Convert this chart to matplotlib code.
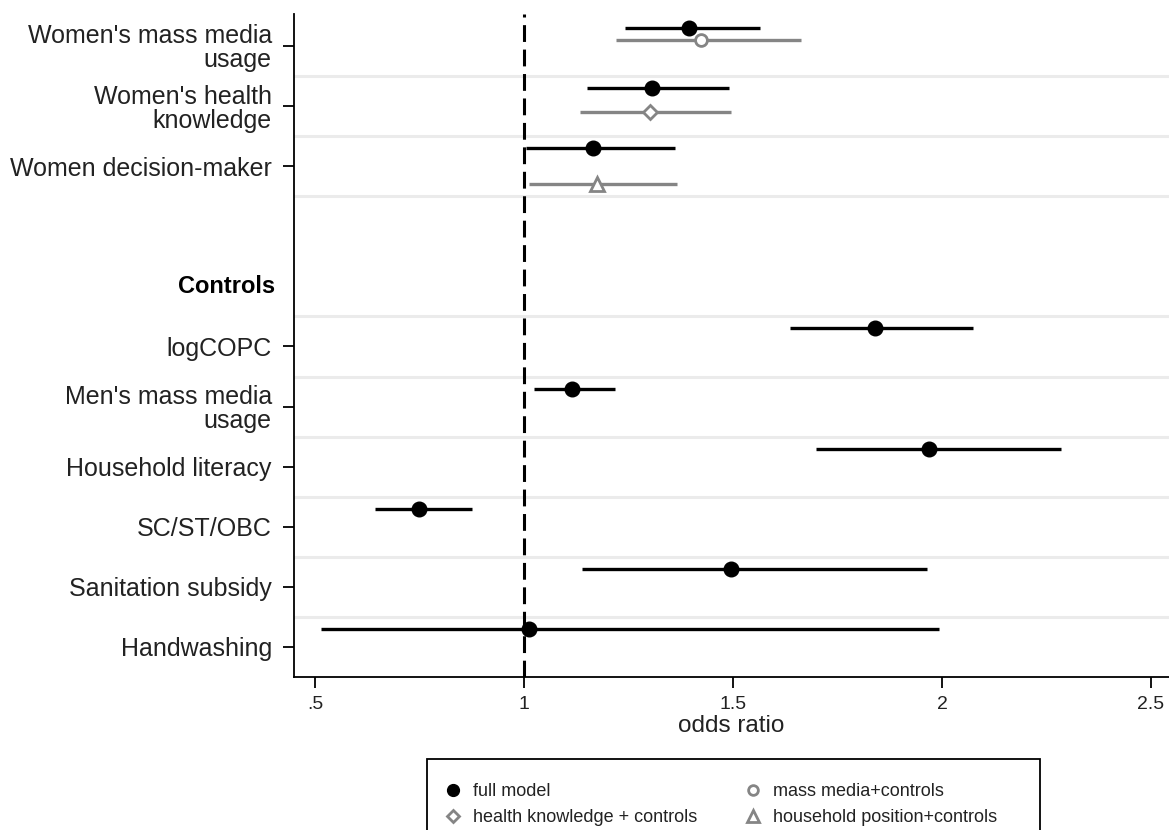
import numpy as np
import matplotlib.pyplot as plt
from matplotlib.lines import Line2D
from matplotlib.patches import Rectangle
from matplotlib import transforms

plt.rcParams['font.family'] = ['Liberation Sans', 'DejaVu Sans']

# women's variables: full model and the single-variable models
women_labels = ["Women's mass media\nusage", "Women's health\nknowledge", "Women decision-maker"]
women_pos = [1, 2, 3]
full_women = [1.395, 1.307, 1.165]
full_women_lo = [1.242, 1.151, 1.005]
full_women_hi = [1.565, 1.490, 1.361]

media_or = 1.423
media_lo = 1.220
media_hi = 1.663
health_or = 1.301
health_lo = 1.134
health_hi = 1.495
house_or = 1.175
house_lo = 1.012
house_hi = 1.367

# controls (full model only)
ctrl_labels = ["logCOPC", "Men's mass media\nusage", "Household literacy",
               "SC/ST/OBC", "Sanitation subsidy", "Handwashing"]
ctrl_pos = [6, 7, 8, 9, 10, 11]
ctrl_or = [1.840, 1.115, 1.969, 0.749, 1.495, 1.013]
ctrl_lo = [1.636, 1.024, 1.699, 0.644, 1.139, 0.514]
ctrl_hi = [2.074, 1.218, 2.285, 0.876, 1.964, 1.993]

gray = '#858585'

fig = plt.figure(figsize=(11.69, 8.30), dpi=100)
ax = fig.add_axes([0.2515, 0.1843, 0.7485, 0.7987])

# light grid between coefficients
for g in [1.5, 2.5, 3.5, 5.5, 6.5, 7.5, 8.5, 9.5, 10.5]:
    ax.axhline(g, color='#ebebeb', lw=2.2, zorder=0)

ax.axvline(1, color='black', lw=2.2, ls=(0, (5.5, 2.5)), zorder=1)

# full model
y_full = np.array(women_pos + ctrl_pos) - 0.3
x_full = np.array(full_women + ctrl_or)
lo_full = np.array(full_women_lo + ctrl_lo)
hi_full = np.array(full_women_hi + ctrl_hi)
ax.hlines(y_full, lo_full, hi_full, color='black', lw=2.4, zorder=2)
ax.plot(x_full, y_full, 'o', color='black', ms=10.5, zorder=3)

# single-variable models
ax.hlines(1 - 0.1, media_lo, media_hi, color=gray, lw=2.4, zorder=2)
ax.plot(media_or, 1 - 0.1, 'o', mfc='white', mec=gray, mew=2, ms=8.5, zorder=3)
ax.hlines(2 + 0.1, health_lo, health_hi, color=gray, lw=2.4, zorder=2)
ax.plot(health_or, 2 + 0.1, 'D', mfc='white', mec=gray, mew=2, ms=7.5, zorder=3)
ax.hlines(3 + 0.3, house_lo, house_hi, color=gray, lw=2.4, zorder=2)
ax.plot(house_or, 3 + 0.3, '^', mfc='white', mec=gray, mew=2, ms=10, zorder=3)

ax.set_xlim(0.45, 2.543)
ax.set_ylim(11.5, 0.47)
ax.set_xticks([0.5, 1, 1.5, 2, 2.5])
ax.set_xticklabels(['.5', '1', '1.5', '2', '2.5'], fontsize=14, color='#222222')
ax.set_yticks(women_pos + ctrl_pos)
ax.set_yticklabels(women_labels + ctrl_labels, fontsize=18, linespacing=1.0,
                   color='#222222')
ax.tick_params(axis='y', length=8, width=1.3, pad=8)
ax.tick_params(axis='x', length=8, width=1.3, pad=6)
ax.set_xlabel('odds ratio', fontsize=17.5, labelpad=1, color='#222222')

trans = transforms.blended_transform_factory(fig.transFigure, ax.transData)
ax.text(275 / 1169, 5, 'Controls', transform=trans, ha='right', va='center',
        fontsize=17, fontweight='bold')

for s in ['top', 'right']:
    ax.spines[s].set_visible(False)
for s in ['left', 'bottom']:
    ax.spines[s].set_linewidth(1.3)

# legend box, wider than its entries and running off the bottom
fig.patches.append(Rectangle((427 / 1169, -0.05), 613 / 1169, 0.05 + 1 - 759 / 830,
                             transform=fig.transFigure, fill=False,
                             edgecolor='black', lw=1.3))
handles = [
    Line2D([], [], ls='none', marker='o', color='black', ms=8.5),
    Line2D([], [], ls='none', marker='D', mfc='white', mec=gray, mew=2, ms=6.5),
    Line2D([], [], ls='none', marker='o', mfc='white', mec=gray, mew=2, ms=7),
    Line2D([], [], ls='none', marker='^', mfc='white', mec=gray, mew=2, ms=9),
]
names = ['full model', 'health knowledge + controls',
         'mass media+controls', 'household position+controls']
leg = fig.legend(handles, names, ncol=2, loc='upper left',
                 bbox_to_anchor=(444 / 1169, 1 - 783 / 830),
                 fontsize=13, frameon=False, borderpad=0, labelspacing=0.5,
                 handlelength=1.0, handletextpad=0.6, columnspacing=2.6,
                 borderaxespad=0)
for t in leg.get_texts():
    t.set_color('#222222')

fig.savefig('out.png', dpi=100)
